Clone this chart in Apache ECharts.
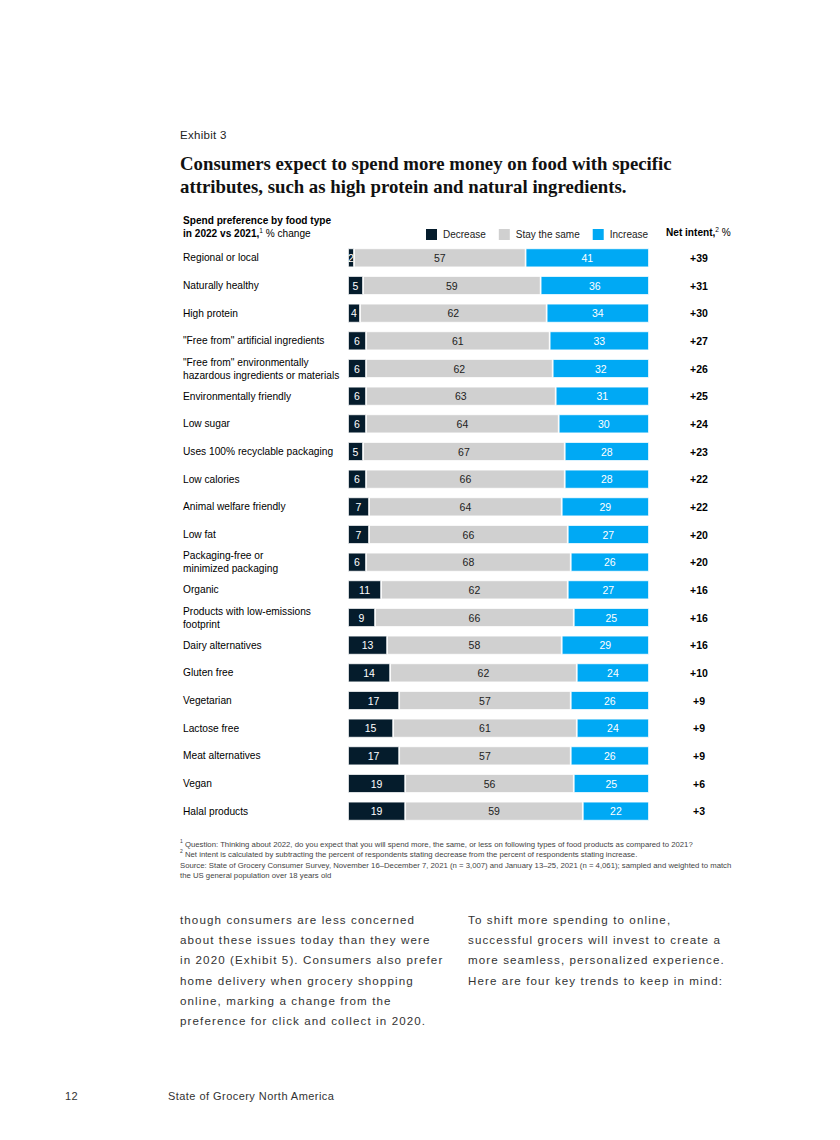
<!DOCTYPE html>
<html>
<head>
<meta charset="utf-8">
<script src="https://cdn.jsdelivr.net/npm/echarts@6/dist/echarts.min.js"></script>
<style>
  html, body { margin:0; padding:0; background:#fff; }
  #page { position:relative; width:840px; height:1140px; overflow:hidden; font-family:"Liberation Sans", Arial, sans-serif; color:#222; }
  #chart { position:absolute; left:0; top:0; width:840px; height:1140px; }
  .t { position:absolute; white-space:nowrap; }
  .exhibit { left:180px; top:129px; font-size:11.5px; color:#222; letter-spacing:0.3px; }
  .title { left:180px; top:152px; font-family:"Liberation Serif", "DejaVu Serif", serif; font-weight:bold; font-size:18.8px; line-height:23px; color:#111; }
  .sub { left:183px; top:214px; font-size:10.1px; line-height:13px; color:#000; }
  .net { left:666px; top:227px; font-size:10.1px; color:#000; }
  .foot { left:180px; top:840px; font-size:7.75px; line-height:10.4px; color:#444; }
  .body { font-size:11.6px; line-height:20.2px; letter-spacing:1.1px; color:#333; top:910px; }
  .pg { top:1090px; font-size:11px; color:#333; letter-spacing:0.45px; }
  sup { font-size:65%; vertical-align: super; line-height:0; }
</style>
</head>
<body>
<div id="page">
  <div id="chart"></div>
  <div class="t exhibit">Exhibit 3</div>
  <div class="t title">Consumers expect to spend more money on food with specific<br>attributes, such as high protein and natural ingredients.</div>
  <div class="t sub"><b>Spend preference by food type</b><br><b>in 2022 vs 2021,</b><sup>1</sup> % change</div>
  <div class="t net"><b>Net intent,</b><sup>2</sup> %</div>
  <div class="t foot"><sup>1</sup> Question: Thinking about 2022, do you expect that you will spend more, the same, or less on following types of food products as compared to 2021?<br><sup>2</sup> Net intent is calculated by subtracting the percent of respondents stating decrease from the percent of respondents stating increase.<br>Source: State of Grocery Consumer Survey, November 16–December 7, 2021 (n = 3,007) and January 13–25, 2021 (n = 4,061); sampled and weighted to match<br>the US general population over 18 years old</div>
  <div class="t body" style="left:180px;">though consumers are less concerned<br>about these issues today than they were<br>in 2020 (Exhibit 5). Consumers also prefer<br>home delivery when grocery shopping<br>online, marking a change from the<br>preference for click and collect in 2020.</div>
  <div class="t body" style="left:468px;">To shift more spending to online,<br>successful grocers will invest to create a<br>more seamless, personalized experience.<br>Here are four key trends to keep in mind:</div>
  <div class="t pg" style="left:65px;">12</div>
  <div class="t pg" style="left:168px;">State of Grocery North America</div>
</div>
<script>
const categories = [
  'Regional or local',
  'Naturally healthy',
  'High protein',
  '"Free from" artificial ingredients',
  '"Free from" environmentally\nhazardous ingredients or materials',
  'Environmentally friendly',
  'Low sugar',
  'Uses 100% recyclable packaging',
  'Low calories',
  'Animal welfare friendly',
  'Low fat',
  'Packaging-free or\nminimized packaging',
  'Organic',
  'Products with low-emissions\nfootprint',
  'Dairy alternatives',
  'Gluten free',
  'Vegetarian',
  'Lactose free',
  'Meat alternatives',
  'Vegan',
  'Halal products'
];
const decrease = [2,5,4,6,6,6,6,5,6,7,7,6,11,9,13,14,17,15,17,19,19];
const stay     = [57,59,62,61,62,63,64,67,66,64,66,68,62,66,58,62,57,61,57,56,59];
const increase = [41,36,34,33,32,31,30,28,28,29,27,26,27,25,29,24,26,24,26,25,22];
const netIntent = ['+39','+31','+30','+27','+26','+25','+24','+23','+22','+22','+20','+20','+16','+16','+16','+10','+9','+9','+9','+6','+3'];

const chart = echarts.init(document.getElementById('chart'), null, {renderer:'svg'});
const font = '"Liberation Sans", Arial, sans-serif';
function seg(name, data, color, labelColor) {
  return {
    name, type:'bar', stack:'t', data, barWidth:19,
    itemStyle:{ color, borderColor:'#fff', borderWidth:0.8 },
    label:{ show:true, position:'inside', color:labelColor, fontSize:10.5, fontFamily:font },
    emphasis:{ disabled:true }
  };
}
chart.setOption({
  animation:false,
  textStyle:{ fontFamily:font },
  legend:{
    left:424, top:227, padding:0, icon:'rect', itemWidth:13, itemHeight:13, itemGap:11,
    textStyle:{ fontSize:10, color:'#222' },
    data:['Decrease','Stay the same','Increase'], selectedMode:false
  },
  grid:{ left:348, right:191, top:244, height:581 },
  xAxis:{ type:'value', min:0, max:100, show:false },
  yAxis:[
    { type:'category', inverse:true, data:categories,
      axisLine:{show:false}, axisTick:{show:false},
      axisLabel:{ align:'left', margin:165, fontSize:10.2, color:'#000', lineHeight:13, fontFamily:font } },
    { type:'category', inverse:true, position:'right', data:netIntent,
      axisLine:{show:false}, axisTick:{show:false},
      axisLabel:{ align:'center', margin:50, fontSize:10.5, fontWeight:'bold', color:'#000', fontFamily:font } }
  ],
  series:[
    seg('Decrease', decrease, '#051c2c', '#fff'),
    seg('Stay the same', stay, '#d0d0d0', '#222'),
    seg('Increase', increase, '#00a9f4', '#fff')
  ]
});
</script>
</body>
</html>
